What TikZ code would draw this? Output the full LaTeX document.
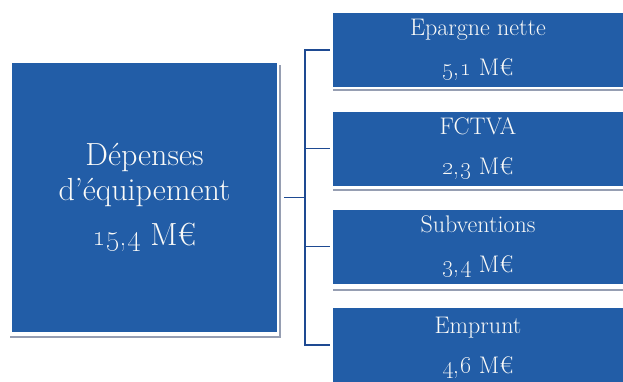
\documentclass[tikz,border=0pt]{standalone}
\usepackage{tikz}
\usetikzlibrary{positioning,calc}
\definecolor{boxblue}{RGB}{34,93,167}
\definecolor{linkblue}{RGB}{30,74,146}
\definecolor{shadegray}{RGB}{150,158,178}
\definecolor{boxtext}{RGB}{250,250,248}
\newcommand{\meur}[1]{\oldstylenums{#1}~M€}
\tikzset{
  mainbox/.style={fill=boxblue, minimum width=265pt, minimum height=269pt, inner sep=0pt,
                  text=boxtext, align=center, font=\fontsize{32}{35}\selectfont},
  srcbox/.style={fill=boxblue, minimum width=290pt, minimum height=74pt, inner sep=0pt,
                 text=boxtext, align=center, font=\fontsize{24}{40}\selectfont},
  link/.style={linkblue, line width=1.8pt},
  shad/.style={shadegray, line width=1.2pt},
}

\begin{document}
\begin{tikzpicture}[x=1pt, y=-1pt]
  \useasboundingbox (0,0) rectangle (623,381);
  \clip (0,0) rectangle (623,381);
  % shadows under the boxes
  \draw[shad] (10,337) -- (280,337) -- (280,65);
  \foreach \yy in {90,190,290} \draw[shad] (333,\yy) -- (623,\yy);
  \node[mainbox] (dep) at (144.5,197.5) {Dépenses\\d'équipement\\[10pt]\meur{15,4}};
  \node[srcbox] (epargne) at (478,50) {Epargne nette\\\meur{5,1}};
  \node[srcbox] (fctva) at (478,148.5) {FCTVA\\\meur{2,3}};
  \node[srcbox] (subv) at (478,246.5) {Subventions\\\meur{3,4}};
  \node[srcbox, minimum height=80pt, anchor=north] (emprunt) at (478,308) {Emprunt\\\meur{4,6}};
  \coordinate (bus) at (305,197.5);
  \draw[link, shorten <=7pt] (dep.east) -- (bus);
  \draw[link, shorten <=3pt] (epargne.west) -| (bus);
  \draw[link, shorten <=3pt] (fctva.west) -| (bus);
  \draw[link, shorten <=3pt] (subv.west) -| (bus);
  \draw[link, shorten <=3pt] (emprunt.west |- 0,345) -| (bus);
\end{tikzpicture}
\end{document}
